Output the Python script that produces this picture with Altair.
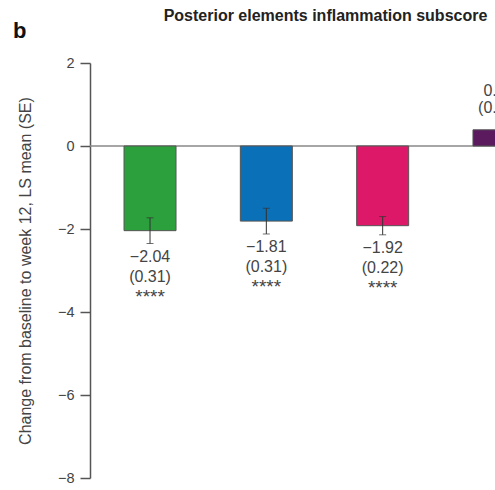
import altair as alt
import pandas as pd

# Treatment arms (left to right) and their LS mean change from baseline (SE)
groups = ["Dose 1", "Dose 2", "Dose 3", "Placebo"]
ls_means = [-2.04, -1.81, -1.92, 0.39]
std_errors = [0.31, 0.31, 0.22, 0.27]
significance = ["****", "****", "****", ""]
bar_colors = ["#2BA03C", "#0A70B8", "#DE1868", "#5C1A5E"]

y_ticks = [2, 0, -2, -4, -6, -8]

df = pd.DataFrame({
    "group": groups,
    "mean": ls_means,
    "se": std_errors,
    "sig": significance,
})

FONT = "Liberation Sans"
TEXT_COLOR = "#444444"
AXIS_COLOR = "#555555"

base = alt.Chart(df).transform_calculate(
    lo="datum.mean - datum.se",
    hi="datum.mean + datum.se",
    val_label="format(datum.mean, '.2f')",
    se_label="'(' + format(datum.se, '.2f') + ')'",
)

x_enc = alt.X(
    "group:N",
    sort=groups,
    scale=alt.Scale(domain=groups, range=[0, 469], paddingInner=0.553, paddingOuter=0.2925),
    axis=None,
)
y_scale = alt.Scale(domain=[-8, 2], nice=False, zero=False)

bars = base.mark_bar(clip=True, stroke=AXIS_COLOR, strokeWidth=1).encode(
    x=x_enc,
    y=alt.Y(
        "mean:Q",
        scale=y_scale,
        axis=alt.Axis(
            values=y_ticks,
            format="d",
            title="Change from baseline to week 12, LS mean (SE)",
            grid=False,
        ),
    ),
    y2=alt.datum(0),
    color=alt.Color("group:N", scale=alt.Scale(domain=groups, range=bar_colors), legend=None),
)

zero_line = alt.Chart(pd.DataFrame({"z": [0]})).mark_rule(
    color="#888888", strokeWidth=1.5
).encode(y=alt.Y("z:Q", scale=y_scale))

err_rule = base.mark_rule(clip=True, color="#333333", strokeWidth=1).encode(
    x=x_enc, y="lo:Q", y2="hi:Q"
)
cap_lo = base.mark_tick(clip=True, color="#333333", thickness=1, size=7, orient="horizontal").encode(
    x=x_enc, y="lo:Q"
)
cap_hi = base.mark_tick(clip=True, color="#333333", thickness=1, size=7, orient="horizontal").encode(
    x=x_enc, y="hi:Q"
)

neg = base.transform_filter("datum.mean < 0")
pos = base.transform_filter("datum.mean >= 0")

txt_style = dict(clip=True, font=FONT, fontSize=16, color=TEXT_COLOR, baseline="middle")

neg_val = neg.mark_text(dy=13.5, **txt_style).encode(x=x_enc, y="lo:Q", text="val_label:N")
neg_se = neg.mark_text(dy=33.5, **txt_style).encode(x=x_enc, y="lo:Q", text="se_label:N")
neg_sig = neg.mark_text(dy=53, clip=True, font=FONT, fontSize=19, color=TEXT_COLOR, baseline="middle").encode(
    x=x_enc, y="lo:Q", text="sig:N"
)
pos_val = pos.mark_text(dy=-28, **txt_style).encode(x=x_enc, y="hi:Q", text="val_label:N")
pos_se = pos.mark_text(dy=-11, **txt_style).encode(x=x_enc, y="hi:Q", text="se_label:N")

panel_letter = alt.Chart(pd.DataFrame({"t": ["b"]})).mark_text(
    font=FONT, fontSize=22, fontWeight="bold", color="#111111", align="left", baseline="alphabetic"
).encode(text="t:N", x=alt.value(-77), y=alt.value(-25))

chart = alt.layer(
    zero_line, bars, err_rule, cap_lo, cap_hi, neg_val, neg_se, neg_sig, pos_val, pos_se, panel_letter
).properties(
    width=405,
    height=415,
    padding={"left": 90, "top": 63, "right": 0, "bottom": 12},
    autosize=alt.AutoSizeParams(type="none"),
    title=alt.TitleParams(
        "Posterior elements inflammation subscore",
        font=FONT,
        fontSize=16,
        fontWeight="bold",
        color="#222222",
        anchor="middle",
        frame="group",
        dx=33,
        offset=-4,
    ),
).configure_view(stroke=None).configure_axis(
    domainColor=AXIS_COLOR,
    domainWidth=1.5,
    tickColor=AXIS_COLOR,
    tickWidth=1.5,
    tickSize=10,
    labelPadding=6,
    labelFont=FONT,
    labelFontSize=14.5,
    labelColor=TEXT_COLOR,
    titleFont=FONT,
    titleFontSize=16,
    titleFontWeight="normal",
    titleColor=TEXT_COLOR,
    titlePadding=24,
)

chart.save("out.html", embed_options={"renderer": "svg", "actions": False})
